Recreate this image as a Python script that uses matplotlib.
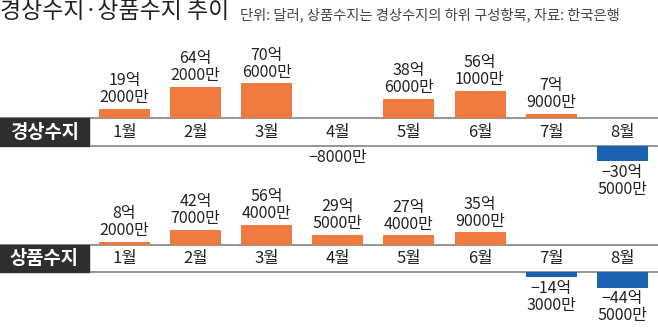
import matplotlib
matplotlib.use('Agg')
import matplotlib.pyplot as plt
from matplotlib.patches import Rectangle
import numpy as np

plt.rcParams['font.family'] = ['Noto Sans CJK KR', 'DejaVu Sans']

# 단위: 억 달러
months = ['1월', '2월', '3월', '4월', '5월', '6월', '7월', '8월']
current_account = [19.2, 64.2, 70.6, -0.8, 38.6, 56.1, 7.9, -30.5]
goods_account = [8.2, 42.7, 56.4, 29.5, 27.4, 35.9, -14.3, -44.5]
panel_names = ['경상수지', '상품수지']

title = '경상수지·상품수지 추이'
subtitle = '단위: 달러, 상품수지는 경상수지의 하위 구성항목, 자료: 한국은행'

ORANGE = '#ef7a3f'
BLUE = '#1b63b0'
DARK = '#2e2e2e'
LINE = '#8c8c8c'
TXT = '#222222'

W, H = 658, 329
c0, step = 124.5, 71.1   # 1월 막대 중심, 간격 (px)
bar_px = 51


def fmt(v):
    sign = '−' if v < 0 else ''
    a = abs(v)
    eok = int(a)
    man = int(round((a - eok) * 10000))
    if eok == 0:
        return f'{sign}{man}만'
    return f'{sign}{eok}억\n{man}만'


def panel(fig, vals, name, top_px, bot_px, zero_px, band_px, scale):
    ax = fig.add_axes([0, 1 - bot_px / H, 1, (bot_px - top_px) / H])
    ax.set_xlim(-c0 / step, (W - c0) / step)
    ax.set_ylim(-(bot_px - zero_px) / scale, (zero_px - top_px) / scale)
    ax.axis('off')
    band = band_px / scale
    vals = np.array(vals)
    x = np.arange(len(vals))

    ax.axhspan(-band, 0, color='white', zorder=0)
    ax.axhline(0, color=LINE, lw=1.3, zorder=1)
    ax.axhline(-band, color=LINE, lw=1.3, zorder=1)

    bottoms = np.where(vals < 0, -band, 0)
    colors = [BLUE if v < 0 else ORANGE for v in vals]
    ax.bar(x, vals, width=bar_px / step, bottom=bottoms, color=colors, zorder=2)

    for i, v in enumerate(vals):
        ax.text(i, -band / 2, months[i], ha='center', va='center',
                fontsize=12, color=TXT)
        if v >= 0:
            ax.annotate(fmt(v), (i, v), xytext=(0, 2), textcoords='offset points',
                        ha='center', va='bottom', fontsize=11.5, color=TXT,
                        linespacing=1.0)
        else:
            ax.annotate(fmt(v), (i, v - band), xytext=(0, -2), textcoords='offset points',
                        ha='center', va='top', fontsize=11.5, color=TXT,
                        linespacing=1.0)

    x0 = ax.get_xlim()[0]
    ax.add_patch(Rectangle((x0, -band), 89 / step, band, color=DARK, zorder=3))
    ax.text(x0 + 44.5 / step, -band / 2, name, ha='center', va='center',
            fontsize=13.5, color='white', fontweight='bold', zorder=4)
    return ax


fig = plt.figure(figsize=(W / 100, H / 100), dpi=100)
fig.patch.set_facecolor('white')

fig.text(0 / W, 1 - 12 / H, title, ha='left', va='center', fontsize=16.5,
         color=TXT, fontweight='medium')
fig.text(240 / W, 1 - 15 / H, subtitle, ha='left', va='center', fontsize=10.3,
         color='#444444')

panel(fig, current_account, panel_names[0], 30, 165, 118, 28, 0.49)
panel(fig, goods_account, panel_names[1], 165, 329, 245, 27, 0.35)

fig.savefig('out.png', dpi=100)
